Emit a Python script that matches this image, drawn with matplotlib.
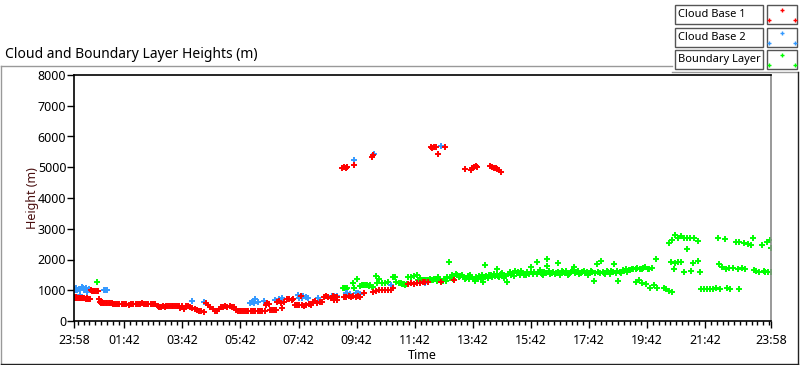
import numpy as np
import matplotlib
matplotlib.use("Agg")
import matplotlib.pyplot as plt
from matplotlib.lines import Line2D
from matplotlib.patches import Rectangle

plt.rcParams["font.family"] = ["Noto Sans", "DejaVu Sans"]

# hours after 23:58, height in metres
cb1_t = [0.00, 0.04, 0.08, 0.12, 0.16, 0.20, 0.24, 0.28, 0.32, 0.36, 0.40, 0.44, 0.48, 0.52, 0.56,
         0.58, 0.62, 0.66, 0.70, 0.74, 0.78, 0.82, 0.86,
         0.88, 0.92, 0.96, 1.00, 1.05, 1.10, 1.15, 1.20, 1.25, 1.30, 1.35,
         1.40, 1.48, 1.56, 1.64, 1.72, 1.80, 1.88, 1.96, 2.04, 2.12, 2.20, 2.28, 2.34, 2.40, 2.48,
         2.56, 2.64, 2.72, 2.80,
         2.88, 2.94, 3.00, 3.06, 3.12, 3.18, 3.24, 3.30, 3.36, 3.42,
         3.48, 3.54, 3.60, 3.66, 3.72, 3.80, 3.86, 3.92, 3.98, 4.07, 4.15, 4.22, 4.30, 4.38, 4.48,
         4.55, 4.62, 4.70, 4.78, 4.86, 4.92, 5.00, 5.06, 5.12, 5.20, 5.28, 5.36, 5.44, 5.52,
         5.58, 5.64, 5.70, 5.76, 5.82, 5.88, 5.94, 6.00, 6.08, 6.16, 6.24, 6.32, 6.40, 6.48, 6.56,
         6.60, 6.65, 6.70, 6.75, 6.82, 6.90, 6.96, 7.00, 7.06, 7.12, 7.17, 7.22,
         7.35, 7.42, 7.50, 7.55, 7.60, 7.68, 7.76, 7.80, 7.84, 7.92, 8.00, 8.08, 8.16,
         8.22, 8.30, 8.38, 8.46, 8.54, 8.60, 8.68, 8.76, 8.84, 8.92, 8.95, 9.00, 9.05, 9.07,
         9.30, 9.38, 9.46, 9.54, 9.62, 9.70, 9.78, 9.86, 9.97, 10.30, 10.40, 10.50, 10.60,
         10.70, 10.80, 10.90, 11.00, 11.50, 11.60, 11.70, 11.80, 11.90, 12.00, 12.10, 12.20,
         12.62, 13.07,
         9.23, 9.30, 9.36, 9.40, 9.63, 10.26, 10.30, 12.28, 12.34, 12.40, 12.45, 12.53, 12.77,
         13.46, 13.66, 13.72, 13.78, 13.84, 13.89, 14.34, 14.40, 14.46, 14.52, 14.58, 14.64, 14.71]
cb1_h = [770, 760, 770, 750, 760, 760, 750, 740, 750, 740, 730, 740, 720, 730, 720,
         1010, 990, 980, 970, 990, 980, 990, 720,
         620, 600, 610, 600, 600, 590, 600, 580, 590, 570, 560,
         550, 560, 550, 540, 545, 540, 535, 540, 545, 540, 545, 560, 600, 560, 560,
         555, 560, 550, 560,
         500, 470, 460, 480, 470, 490, 500, 490, 500, 490,
         480, 500, 490, 420, 480, 390, 500, 490, 470, 420, 380, 350, 330, 310, 300,
         575, 520, 450, 380, 330, 320, 400, 440, 470, 480, 470, 480, 460, 440,
         360, 320, 340, 310, 330, 320, 330, 320, 330, 320, 330, 320, 325, 320, 330,
         520, 600, 560, 360, 350, 360, 350, 620, 640, 600, 410, 620,
         700, 720, 690, 700, 520, 530, 510, 810, 520, 500, 520, 540, 510,
         620, 640, 600, 630, 620, 780, 800, 790, 760, 800, 680, 780, 690, 770,
         790, 780, 800, 790, 810, 790, 800, 790, 900, 950, 980, 1000, 1010,
         1000, 1020, 1010, 1080, 1200, 1220, 1210, 1230, 1220, 1280, 1270, 1260,
         1280, 1330,
         4990, 5000, 4990, 5010, 5060, 5340, 5400, 5650, 5640, 5660, 5650, 5420, 5650,
         4930, 4910, 4960, 5000, 5040, 5020, 5040, 5010, 4990, 4965, 4930, 4900, 4860]

cb2_t = [0.00, 0.04, 0.08, 0.12, 0.16, 0.20, 0.22, 0.28, 0.32, 0.36, 0.40, 0.45, 0.50, 0.55,
         1.03, 1.08, 1.14, 4.07, 4.48, 6.07, 6.12, 6.20, 6.24, 6.35, 6.55, 6.93, 7.05, 7.17,
         7.70, 7.75, 7.80, 7.85, 7.90, 8.00, 8.07, 8.40, 8.90, 8.94, 9.07, 9.35, 9.40, 9.50,
         9.70, 9.78, 9.86, 10.90, 12.10,
         9.40, 9.63, 10.32, 12.62]
cb2_h = [1050, 1020, 1080, 1000, 1050, 850, 1040, 1100, 1060, 1000, 1060, 940, 1050, 1020,
         1000, 1000, 1000, 640, 620, 580, 610, 590, 700, 630, 660, 680, 700, 740,
         840, 760, 800, 740, 820, 780, 760, 740, 810, 820, 810, 900, 910, 890,
         900, 910, 890, 1170, 1220,
         5000, 5240, 5420, 5690]

bl_t = [0.80, 9.25, 9.30, 9.35, 9.40, 9.60, 9.65, 9.76, 9.86, 9.95, 10.05, 10.15, 10.25, 10.30,
        10.40, 10.45, 10.50, 10.80, 11.00, 11.07, 11.10, 11.20, 11.30, 11.40, 11.50, 11.60, 11.70,
        11.80, 11.85, 11.90, 12.00, 12.10, 12.20, 12.30, 12.40, 12.50, 12.60, 12.70, 12.80, 12.90,
        13.00, 13.10, 13.20, 13.30, 13.40, 13.50, 13.60, 13.70, 13.80, 13.90, 14.00, 14.10, 14.14,
        14.20, 14.30, 14.40, 14.50, 14.58, 14.60, 14.70, 14.80, 14.90, 15.00, 15.03, 15.10, 15.20,
        15.28, 15.35, 15.45, 15.50, 15.60, 15.72, 15.80, 15.93, 16.00, 16.10, 16.20, 16.28, 16.30,
        16.40, 16.50, 16.60, 16.67, 16.75, 16.85, 16.95, 17.05, 17.20, 17.30, 17.40, 17.50, 17.60,
        17.70, 17.80, 17.90, 18.02, 18.10, 18.14, 18.20, 18.30, 18.40, 18.50, 18.60, 18.65, 18.73,
        18.80, 18.90, 19.00, 19.10, 19.20, 19.34, 19.40, 19.45, 19.50, 19.57, 19.60, 19.70, 19.75,
        19.84, 19.90, 19.98, 20.03, 20.09, 20.30, 20.40, 20.50, 20.60, 20.50, 20.60, 20.70, 20.80,
        20.90, 20.55, 20.66, 20.70, 20.80, 20.90, 21.00, 21.00, 21.10, 21.10, 21.20, 21.24, 21.30,
        21.35, 21.50, 21.50, 21.55, 21.60, 21.70, 21.80, 21.90, 22.00, 22.10, 22.17, 22.20, 22.25,
        22.30, 22.40, 22.45, 22.50, 22.55, 22.60, 22.70, 22.80, 22.85, 22.90, 22.90, 23.00, 23.07,
        23.10, 23.20, 23.30, 23.38, 23.40, 23.50, 23.60, 23.70, 23.75, 23.80, 23.85, 23.90, 23.97,
        24.00, 24.00,
        12.45, 12.55, 12.65, 12.75, 12.85, 12.95, 13.05, 13.15, 13.25, 13.35, 13.45, 13.55, 13.65,
        13.75, 13.85, 13.95, 14.05, 14.15, 14.25, 14.35, 14.45, 14.55, 14.65, 14.75, 14.85, 14.95,
        15.05, 15.15, 15.25, 15.40, 15.55, 15.65, 15.75, 15.85, 15.95, 16.05, 16.15, 16.25, 16.35,
        16.45, 16.55, 16.65, 16.80, 16.90, 17.00, 17.10, 17.15, 17.25, 17.35, 17.45, 17.55, 17.65,
        17.75, 17.85, 17.95, 18.05, 18.25, 18.35, 18.45, 18.55, 18.70, 18.85, 18.95, 19.05, 19.15,
        19.25, 19.35, 19.55, 19.65, 19.80,
        9.28, 9.33, 9.90, 10.00, 10.10, 10.20, 10.60, 10.70, 11.25, 11.35, 11.45, 11.95, 12.05,
        12.15, 12.25, 12.35]
bl_h = [1260, 1060, 1070, 1050, 1060, 1225, 1060, 1355, 1150, 1170, 1160, 1150, 1120, 1110,
        1460, 1225, 1355, 1257, 1420, 1420, 1257, 1225, 1200, 1180, 1440, 1440, 1460,
        1500, 1330, 1390, 1333, 1340, 1320, 1330, 1380, 1300, 1350, 1290, 1300, 1910,
        1490, 1450, 1500, 1460, 1440, 1390, 1350, 1420, 1300, 1380, 1400, 1280, 1810,
        1450, 1500, 1420, 1470, 1680, 1450, 1520, 1390, 1280, 1600, 1600, 1550, 1620,
        1600, 1500, 1560, 1480, 1590, 1767, 1530, 1930, 1600, 1540, 1580, 2005, 1790,
        1520, 1600, 1560, 1900, 1500, 1580, 1620, 1540, 1767, 1590, 1520, 1600, 1550,
        1500, 1620, 1300, 1843, 1560, 1950, 1600, 1520, 1580, 1640, 1843, 1550, 1300,
        1600, 1660, 1680, 1650, 1700, 1280, 1713, 1330, 1700, 1225, 1720, 1200, 1680,
        1084, 1720, 1170, 2005, 1084, 1080, 1040, 980, 950, 2530, 2650, 2800, 2700,
        2750, 1910, 1680, 1900, 1920, 1910, 1583, 2710, 2332, 2700, 2710, 1626, 1900,
        2700, 2612, 1950, 1583, 1040, 1030, 1050, 1040, 1030, 1060, 2689, 1850, 1040,
        1750, 2657, 1690, 1060, 1720, 1040, 1720, 2580, 1700, 2560, 1040, 1720, 2547,
        1700, 2500, 2472, 2689, 1660, 1640, 1600, 2472, 1620, 1580, 2580, 1600, 2634,
        1583, 2384,
        1360, 1420, 1310, 1380, 1440, 1400, 1380, 1520, 1420, 1480, 1380, 1450, 1480,
        1350, 1440, 1460, 1500, 1430, 1390, 1480, 1540, 1500, 1430, 1560, 1470, 1530,
        1500, 1450, 1570, 1620, 1500, 1540, 1600, 1580, 1520, 1650, 1500, 1560, 1620,
        1560, 1520, 1580, 1620, 1560, 1500, 1600, 1640, 1560, 1630, 1560, 1640, 1580,
        1550, 1590, 1560, 1600, 1560, 1620, 1520, 1580, 1620, 1570, 1640, 1600, 1660,
        1680, 1700, 1690, 1740, 1700,
        1080, 1060, 1180, 1170, 1180, 1160, 1240, 1250, 1230, 1200, 1210, 1320, 1340,
        1330, 1360, 1340]

tick_hours = [0, 1.733, 3.733, 5.733, 7.733, 9.733, 11.733, 13.733, 15.733, 17.733, 19.733, 21.733, 24]
tick_labels = ["23:58", "01:42", "03:42", "05:42", "07:42", "09:42", "11:42",
               "13:42", "15:42", "17:42", "19:42", "21:42", "23:58"]

red = "#ff0000"
blue = "#3399ff"
green = "#00ff00"

fig = plt.figure(figsize=(8, 3.65), dpi=100)
W, H = 800, 365

def fx(px):
    return px / W

def fy(py):
    return 1 - py / H

ax = fig.add_axes([fx(74), fy(321), fx(771) - fx(74), fy(75) - fy(321)])
mk = dict(marker="+", linestyle="none", markersize=4.2, markeredgewidth=1.4)
ax.plot(bl_t, bl_h, color=green, **mk)
ax.plot(cb2_t, cb2_h, color=blue, **mk)
ax.plot(cb1_t, cb1_h, color=red, **mk)

ax.set_xlim(0, 24)
ax.set_ylim(0, 8000)
ax.set_yticks(np.arange(0, 8001, 1000))
ax.set_xticks(tick_hours)
ax.set_xticklabels(tick_labels)
minor = [h for h in np.arange(0.133, 24, 0.2) if min(abs(h - t) for t in tick_hours) > 0.05]
ax.set_xticks(minor, minor=True)
ax.tick_params(axis="both", which="major", length=5, width=1, labelsize=9, color="black")
ax.tick_params(axis="y", pad=0.5)
ax.tick_params(axis="x", which="minor", length=3, width=1)
ax.tick_params(axis="x", pad=4)
for s in ["left", "top", "bottom"]:
    ax.spines[s].set_color("black")
    ax.spines[s].set_linewidth(1.2)
ax.spines["right"].set_color("#888888")
ax.spines["right"].set_linewidth(1.2)
ax.set_ylabel("Height (m)", fontsize=9, color="#4a1010")
ax.yaxis.set_label_coords((39 - 74) / 697, 0.5)
ax.set_xlabel("Time", fontsize=9, labelpad=2)

# outer frame
fig.add_artist(Line2D([fx(0.5), fx(672)], [fy(66), fy(66)], color="#999999", lw=1))
fig.add_artist(Line2D([fx(0.5), fx(0.5)], [fy(66), fy(364)], color="#999999", lw=1))
fig.add_artist(Line2D([fx(672), fx(798)], [fy(72), fy(72)], color="#999999", lw=1))
fig.add_artist(Line2D([fx(798), fx(798)], [fy(72), fy(364)], color="#222222", lw=1))
fig.add_artist(Line2D([fx(0.5), fx(798)], [fy(364), fy(364)], color="#222222", lw=1))

fig.text(fx(5), fy(54), "Cloud and Boundary Layer Heights (m)", fontsize=10, va="center", ha="left")

# legend
names = ["Cloud Base 1", "Cloud Base 2", "Boundary Layer"]
cols = [red, blue, green]
rows = [5, 28, 50]
for name, col, top in zip(names, cols, rows):
    fig.add_artist(Rectangle((fx(675), fy(top + 19)), fx(88), fy(top) - fy(top + 19),
                             facecolor="white", edgecolor="#555555", lw=1))
    fig.text(fx(678), fy(top + 9.5), name, fontsize=8, va="center", ha="left")
    fig.add_artist(Rectangle((fx(767), fy(top + 19)), fx(30), fy(top) - fy(top + 19),
                             facecolor="white", edgecolor="#555555", lw=1))
    fig.add_artist(Line2D([fx(782), fx(769), fx(795)], [fy(top + 5), fy(top + 15), fy(top + 15)],
                          color=col, marker="+", linestyle="none", markersize=3, markeredgewidth=1))

fig.savefig("out.png", dpi=100, facecolor="white")
